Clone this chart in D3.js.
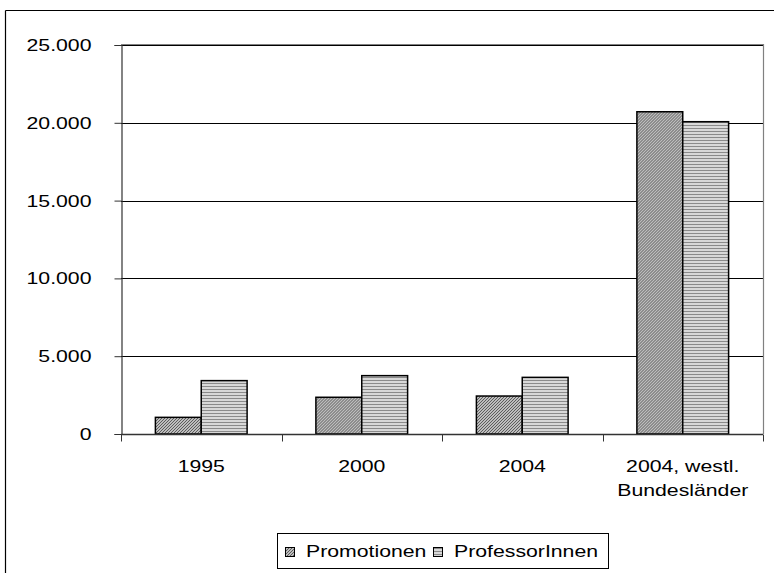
<!DOCTYPE html>
<html><head><meta charset="utf-8">
<script src="https://cdn.jsdelivr.net/npm/d3@7"></script>
<style>body{margin:0;background:#fff}svg{display:block}text{font-family:"Liberation Sans",Arial,sans-serif}</style>
</head><body>
<script>
const categories = ["1995", "2000", "2004", "2004, westl.|Bundesländer"];
const seriesNames = ["Promotionen", "ProfessorInnen"];
const promotionen = [1070, 2360, 2440, 20710];
const professorinnen = [3430, 3750, 3640, 20070];
const yTicks = [0, 5000, 10000, 15000, 20000, 25000];

const W = 774, H = 573;
const FS = 17, SX = 1.25;
const m = {left: 121, right: 763, top: 45, bottom: 434};
const svg = d3.select("body").append("svg").attr("width", W).attr("height", H);
const defs = svg.append("defs");
const p1 = defs.append("pattern").attr("id","diag").attr("patternUnits","userSpaceOnUse").attr("width",3).attr("height",3);
p1.append("rect").attr("width",3).attr("height",3).attr("fill","#e8e8e8");
p1.append("path").attr("d","M0,3 L3,0 M-1,1 L1,-1 M2,4 L4,2").attr("stroke","#555").attr("stroke-width",1.1);
const p2 = defs.append("pattern").attr("id","horiz").attr("patternUnits","userSpaceOnUse").attr("width",4).attr("height",3);
p2.append("rect").attr("width",4).attr("height",3).attr("fill","#d8d8d8");
p2.append("rect").attr("width",4).attr("height",1).attr("y",2).attr("fill","#8a8a8a");
const fills = ["url(#diag)", "url(#horiz)"];

function stretch(sel){
  sel.each(function(){
    const t = d3.select(this);
    const x = +t.attr("x") || 0, y = +t.attr("y") || 0;
    t.attr("x",0).attr("y",0).attr("transform",`translate(${x},${y}) scale(${SX},1)`);
  });
}

// outer frame (top and left visible)
svg.append("line").attr("x1",5.5).attr("x2",W).attr("y1",10.5).attr("y2",10.5).attr("stroke","#000").attr("stroke-width",1.2);
svg.append("line").attr("x1",5.5).attr("x2",5.5).attr("y1",10.5).attr("y2",H).attr("stroke","#000").attr("stroke-width",1.2);

const x0 = d3.scaleBand().domain(categories).range([m.left, m.right]).paddingInner(0).paddingOuter(0);
const x1 = d3.scaleBand().domain(seriesNames).range([0, x0.bandwidth()]).paddingInner(0).paddingOuter(0.75);
const y = d3.scaleLinear().domain([0, 25000]).range([m.bottom, m.top]);

// gridlines
svg.append("g").selectAll("line").data(yTicks.filter(d=>d>0)).join("line")
  .attr("x1", m.left).attr("x2", m.right).attr("y1", d=>Math.round(y(d))+0.5).attr("y2", d=>Math.round(y(d))+0.5)
  .attr("stroke","#000").attr("stroke-width",1);
// plot area border (gray) right side and top
svg.append("path").attr("d",`M${m.left},${m.top-0.5}H${m.right+0.5}V${m.bottom}`).attr("fill","none").attr("stroke","#808080").attr("stroke-width",1.2);

// bars
const data = categories.map((c,i)=>({c, vals:[promotionen[i], professorinnen[i]]}));
const g = svg.append("g").selectAll("g").data(data).join("g").attr("transform", d=>`translate(${x0(d.c)},0)`);
g.selectAll("rect").data(d=>d.vals.map((v,j)=>({s:seriesNames[j], v, j}))).join("rect")
  .attr("x", d=>x1(d.s)).attr("width", x1.bandwidth()).attr("y", d=>y(d.v)).attr("height", d=>y(0)-y(d.v))
  .attr("fill", d=>fills[d.j]).attr("stroke","#000").attr("stroke-width",1.5);

// y axis
const yAxis = d3.axisLeft(y).tickValues(yTicks).tickSize(7).tickPadding(23)
  .tickFormat(d => d3.format(",")(d).replace(/,/g,"."));
const ya = svg.append("g").attr("transform",`translate(${m.left+0.5},0)`).call(yAxis);
ya.select(".domain").attr("stroke","#333").attr("stroke-width",1.2);
ya.selectAll(".tick line").attr("stroke","#333");
ya.selectAll("text").attr("font-size",FS).attr("fill","#000").attr("font-family",null).call(stretch);

// x axis
const xa = svg.append("g").attr("transform",`translate(0,${m.bottom+0.5})`);
xa.append("line").attr("x1",m.left).attr("x2",m.right).attr("stroke","#333").attr("stroke-width",1.5);
const bounds = categories.map(c=>x0(c)).concat([m.right]);
xa.selectAll("line.t").data(bounds).join("line").attr("class","t")
  .attr("x1",d=>Math.round(d)+0.5).attr("x2",d=>Math.round(d)+0.5).attr("y1",0).attr("y2",7).attr("stroke","#333");
categories.forEach(c=>{
  c.split("|").forEach((line,i)=>{
    xa.append("text").attr("x", x0(c)+x0.bandwidth()/2).attr("y", 37.5 + i*24)
      .attr("text-anchor","middle").attr("font-size",FS).attr("fill","#000").text(line).call(stretch);
  });
});

// legend
const lg = svg.append("g");
const items = [{n:seriesNames[0], x:285, f:fills[0]}, {n:seriesNames[1], x:433, f:fills[1]}];
const lbox = lg.append("rect").attr("x",277.5).attr("y",533.5).attr("height",35).attr("fill","#fff").attr("stroke","#000").attr("stroke-width",1);
let maxX = 0;
items.forEach(it=>{
  lg.append("rect").attr("x",it.x+0.5).attr("y",547.5).attr("width",9).attr("height",9).attr("fill",it.f).attr("stroke","#000").attr("stroke-width",1);
  const t = lg.append("text").attr("x",it.x+21).attr("y",557).attr("font-size",FS).attr("fill","#000").text(it.n).call(stretch);
  maxX = Math.max(maxX, it.x+21 + t.node().getComputedTextLength()*SX);
});
lbox.attr("width", Math.round(maxX + 10 - 277.5));
</script>
</body></html>
